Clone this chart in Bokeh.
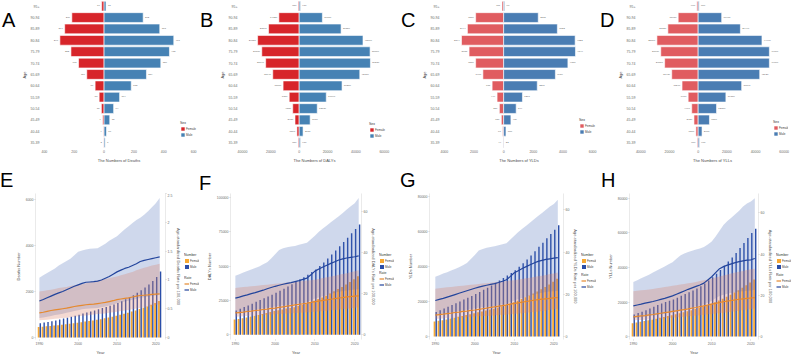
from bokeh.plotting import figure
from bokeh.layouts import row, column
from bokeh.models import (Range1d, LinearAxis, FixedTicker, Legend, LegendItem, Div,
                          ColumnDataSource, BasicTickFormatter)
from bokeh.transform import dodge
from bokeh.core.properties import value
from bokeh.embed import file_html
from bokeh.resources import INLINE

FONT = "Liberation Sans"
TICK_COL = "#6b6b6b"
TITLE_COL = "#4a4a4a"

# ---------------------------------------------------------------- age pyramids
ages = ["35-39", "40-44", "45-49", "50-54", "55-59", "60-64", "65-69",
        "70-74", "75-79", "80-84", "85-89", "90-94", "95+"]

deaths_female = [2, 4, 9, 18, 33, 60, 116, 171, 222, 296, 264, 216, 16]
deaths_male = [7, 16, 38, 64, 104, 182, 284, 380, 438, 467, 373, 262, 13]

dalys_female = [680, 1590, 2950, 4550, 7050, 11360, 18640, 23640, 26370, 29320, 21590, 14320, 680]
dalys_male = [910, 2730, 7730, 12730, 19090, 30230, 42730, 50230, 50000, 45000, 29550, 16360, 910]

ylds_female = [44, 67, 156, 289, 444, 778, 1400, 1889, 2333, 2844, 2444, 1889, 111]
ylds_male = [22, 156, 489, 844, 1267, 2267, 3489, 4333, 4844, 4822, 3622, 2333, 67]

ylls_female = [670, 1570, 2920, 4490, 6970, 11240, 18430, 23370, 26070, 28760, 21120, 13930, 900]
ylls_male = [900, 2700, 7870, 12810, 19330, 30340, 42920, 49660, 49660, 44490, 29440, 16400, 670]

ticks_deaths = [-400, -200, 0, 200, 400, 600]
ticks_dalys = [-40000, -20000, 0, 20000, 40000, 60000]
ticks_ylds = [-4000, -2000, 0, 2000, 4000, 6000]
ticks_ylls = [-40000, -20000, 0, 20000, 40000, 60000]

# ---------------------------------------------------------------- trends 1990-2021
years = list(range(1990, 2022))

# Deaths
e_num_f = [460, 475, 490, 505, 520, 540, 560, 580, 600, 620, 645, 670, 695, 720, 745, 770,
           800, 835, 870, 905, 945, 990, 1035, 1080, 1130, 1180, 1235, 1290, 1350, 1420, 1500, 1590]
e_num_m = [620, 650, 680, 710, 745, 785, 825, 865, 905, 950, 995, 1040, 1085, 1130, 1180, 1230,
           1280, 1330, 1385, 1440, 1500, 1580, 1660, 1750, 1840, 1940, 2050, 2170, 2300, 2450, 2630, 2870]
e_rate_f = [0.43, 0.44, 0.455, 0.47, 0.48, 0.49, 0.50, 0.51, 0.525, 0.54, 0.55, 0.56, 0.57, 0.575, 0.58, 0.59,
            0.60, 0.61, 0.625, 0.64, 0.66, 0.67, 0.68, 0.69, 0.705, 0.72, 0.73, 0.735, 0.74, 0.75, 0.755, 0.76]
e_rate_m = [0.635, 0.66, 0.69, 0.72, 0.75, 0.775, 0.80, 0.83, 0.86, 0.89, 0.915, 0.94, 0.96, 0.965, 0.97, 0.98,
            1.00, 1.03, 1.06, 1.10, 1.14, 1.17, 1.20, 1.22, 1.25, 1.28, 1.32, 1.34, 1.355, 1.37, 1.385, 1.40]
e_lo_f = [0.30, 0.305, 0.31, 0.32, 0.325, 0.33, 0.34, 0.345, 0.355, 0.36, 0.37, 0.38, 0.385, 0.39, 0.40, 0.41,
          0.415, 0.42, 0.43, 0.44, 0.45, 0.46, 0.47, 0.48, 0.49, 0.505, 0.515, 0.525, 0.535, 0.55, 0.565, 0.58]
e_hi_f = [0.80, 0.81, 0.82, 0.83, 0.845, 0.86, 0.87, 0.88, 0.895, 0.91, 0.92, 0.93, 0.945, 0.96, 0.975, 0.99,
          1.00, 1.02, 1.03, 1.045, 1.06, 1.08, 1.10, 1.12, 1.14, 1.17, 1.19, 1.21, 1.23, 1.25, 1.265, 1.28]
e_lo_m = [0.34, 0.35, 0.36, 0.375, 0.39, 0.40, 0.415, 0.43, 0.445, 0.46, 0.475, 0.49, 0.50, 0.505, 0.51, 0.515,
          0.525, 0.54, 0.555, 0.575, 0.595, 0.61, 0.625, 0.64, 0.655, 0.67, 0.69, 0.70, 0.71, 0.72, 0.73, 0.74]
e_hi_m = [1.04, 1.08, 1.12, 1.16, 1.20, 1.25, 1.29, 1.33, 1.37, 1.43, 1.49, 1.51, 1.53, 1.54, 1.545, 1.55,
          1.59, 1.63, 1.68, 1.72, 1.76, 1.82, 1.88, 1.93, 1.99, 2.04, 2.08, 2.13, 2.19, 2.26, 2.33, 2.42]

# DALYs
f_num_f = [11000, 11500, 12000, 12600, 13200, 13800, 14400, 15100, 15800, 16500, 17200, 17800, 18400, 19000, 19500, 20000,
           20900, 21800, 22700, 23700, 24700, 25900, 27100, 28400, 30000, 31600, 33200, 34800, 36500, 38400, 40400, 42500]
f_num_m = [17700, 18900, 20100, 21300, 22600, 23900, 25200, 26500, 27800, 29100, 30500, 32000, 33500, 35000, 36700, 38500,
           40200, 41900, 43700, 45600, 47500, 50000, 52500, 55400, 58300, 61300, 64400, 67400, 70600, 73800, 77000, 80300]
f_rate_f = [10.6, 10.8, 11.0, 11.3, 11.5, 11.8, 12.0, 12.3, 12.5, 12.8, 13.0, 13.3, 13.6, 13.9, 14.2, 14.5,
            14.8, 15.1, 15.4, 15.8, 16.1, 16.4, 16.7, 17.0, 17.3, 17.6, 17.9, 18.1, 18.4, 18.6, 18.8, 18.9]
f_rate_m = [17.8, 18.3, 18.9, 19.4, 20.0, 20.5, 21.1, 21.7, 22.4, 23.0, 23.6, 24.1, 24.6, 25.0, 25.4, 25.9,
            26.4, 27.0, 27.6, 29.2, 31.0, 32.0, 33.0, 33.9, 34.8, 35.6, 36.4, 37.0, 37.4, 37.7, 38.0, 38.4]
f_lo_f = [8.8, 8.9, 9.0, 9.1, 9.2, 9.4, 9.5, 9.6, 9.7, 9.8, 10.0, 10.1, 10.2, 10.3, 10.4, 10.6,
          10.7, 10.8, 10.9, 11.0, 11.2, 11.3, 11.5, 11.7, 11.9, 12.1, 12.3, 12.5, 12.7, 12.9, 13.1, 13.4]
f_hi_f = [22.8, 23.0, 23.2, 23.4, 23.6, 23.8, 24.0, 24.2, 24.4, 24.6, 24.8, 25.0, 25.2, 25.4, 25.6, 25.8,
          26.0, 26.2, 26.4, 26.6, 26.8, 27.2, 27.6, 28.0, 28.4, 28.8, 29.2, 29.6, 30.0, 30.4, 30.9, 31.4]
f_lo_m = [10.7, 11.0, 11.3, 11.6, 11.9, 12.2, 12.5, 12.8, 13.1, 13.4, 13.7, 14.0, 14.3, 14.5, 14.7, 15.0,
          15.3, 15.6, 15.9, 16.7, 17.6, 18.2, 18.8, 19.4, 19.9, 20.4, 20.9, 21.3, 21.6, 21.8, 22.0, 22.2]
f_hi_m = [28.8, 29.5, 30.3, 31.0, 31.8, 32.5, 33.3, 34.3, 35.3, 37.2, 39.2, 41.3, 42.1, 42.6, 43.0, 43.3,
          43.8, 44.3, 44.8, 46.5, 48.3, 50.2, 51.8, 53.3, 54.8, 56.3, 57.8, 59.4, 61.0, 62.6, 64.1, 66.6]

# YLDs
g_num_f = [8600, 9000, 9400, 9800, 10300, 10800, 11300, 11800, 12300, 12800, 13400, 13900, 14400, 14900, 15400, 15900,
           16600, 17300, 18000, 18800, 19600, 20500, 21400, 22400, 23500, 24600, 25800, 27000, 28300, 29700, 31300, 33000]
g_num_m = [14100, 15000, 16000, 17000, 18000, 19000, 20100, 21200, 22200, 23200, 24300, 25500, 26700, 27900, 29200, 30600,
           32000, 33400, 34800, 36300, 37800, 39800, 41800, 44000, 46300, 48700, 51200, 53600, 56100, 58600, 61000, 63600]
g_rate_f = [10.2, 10.4, 10.6, 10.9, 11.1, 11.4, 11.6, 11.9, 12.1, 12.4, 12.6, 12.9, 13.2, 13.5, 13.8, 14.1,
            14.4, 14.7, 15.0, 15.4, 15.7, 16.0, 16.3, 16.6, 16.9, 17.2, 17.5, 17.7, 17.9, 18.1, 18.3, 18.5]
g_rate_m = [17.1, 17.6, 18.1, 18.7, 19.3, 19.9, 20.5, 21.1, 21.7, 22.3, 22.9, 23.4, 23.9, 24.3, 24.7, 25.1,
            25.6, 26.2, 26.9, 28.5, 30.2, 31.2, 32.2, 33.1, 34.0, 34.8, 35.6, 36.1, 36.5, 36.8, 37.1, 37.4]
g_lo_f = [8.4, 8.5, 8.6, 8.7, 8.8, 8.9, 9.0, 9.1, 9.2, 9.4, 9.5, 9.6, 9.7, 9.8, 9.9, 10.1,
          10.2, 10.3, 10.4, 10.6, 10.7, 10.9, 11.1, 11.3, 11.5, 11.7, 11.9, 12.1, 12.4, 12.7, 12.9, 13.2]
g_hi_f = [22.7, 22.9, 23.1, 23.3, 23.5, 23.7, 23.9, 24.1, 24.3, 24.5, 24.7, 24.9, 25.1, 25.3, 25.5, 25.7,
          25.9, 26.1, 26.3, 26.5, 26.7, 27.0, 27.3, 27.6, 27.9, 28.2, 28.5, 28.8, 29.2, 29.6, 29.9, 30.3]
g_lo_m = [10.3, 10.6, 10.9, 11.2, 11.5, 11.8, 12.1, 12.4, 12.7, 13.0, 13.3, 13.6, 13.9, 14.1, 14.3, 14.6,
          14.9, 15.2, 15.5, 16.3, 17.1, 17.7, 18.3, 18.9, 19.4, 19.9, 20.4, 20.8, 21.1, 21.3, 21.5, 21.7]
g_hi_m = [28.3, 29.0, 29.8, 30.5, 31.3, 32.0, 32.8, 33.8, 34.8, 36.7, 38.6, 40.7, 41.5, 42.0, 42.4, 42.7,
          43.2, 43.7, 44.2, 45.9, 47.7, 49.5, 51.0, 52.5, 54.0, 55.5, 57.0, 58.5, 60.0, 61.5, 62.7, 64.7]

# YLLs
h_num_f = [7800, 8200, 8600, 9000, 9400, 9900, 10400, 10900, 11400, 11900, 12400, 12900, 13500, 14100, 14700, 15300,
           16000, 16700, 17400, 18200, 19000, 19900, 20900, 21900, 23000, 24200, 25500, 26800, 28200, 29700, 31300, 33000]
h_num_m = [12800, 13600, 14400, 15300, 16300, 17300, 18300, 19200, 20000, 20700, 21500, 22500, 23600, 24700, 25700, 26700,
           27900, 29200, 30700, 32400, 34300, 36300, 38600, 41000, 43400, 45800, 48400, 51200, 54200, 57100, 59900, 62400]
h_rate_f = [9.6, 9.8, 10.0, 10.2, 10.5, 10.7, 11.0, 11.3, 11.6, 11.9, 12.2, 12.5, 12.8, 13.1, 13.4, 13.8,
            14.1, 14.5, 14.9, 15.3, 15.7, 16.1, 16.5, 16.9, 17.2, 17.5, 17.8, 18.1, 18.3, 18.5, 18.7, 18.9]
h_rate_m = [14.9, 15.3, 15.7, 16.2, 16.6, 17.0, 17.5, 18.0, 18.5, 19.1, 19.7, 20.5, 21.3, 22.1, 22.9, 23.6,
            24.3, 25.0, 25.9, 27.4, 29.0, 31.0, 32.9, 33.9, 34.6, 35.2, 35.8, 36.3, 36.7, 37.0, 37.2, 37.8]
h_lo_f = [7.9, 8.0, 8.1, 8.2, 8.3, 8.5, 8.6, 8.7, 8.9, 9.0, 9.2, 9.3, 9.5, 9.6, 9.8, 10.0,
          10.2, 10.4, 10.6, 10.8, 11.0, 11.2, 11.4, 11.6, 11.8, 12.0, 12.3, 12.6, 12.9, 13.1, 13.4, 13.6]
h_hi_f = [22.0, 22.2, 22.4, 22.6, 22.8, 23.1, 23.4, 23.7, 24.0, 24.3, 24.6, 24.9, 25.2, 25.5, 25.8, 26.1,
          26.5, 26.9, 27.3, 27.7, 28.1, 28.6, 29.1, 29.6, 30.1, 30.6, 31.0, 31.4, 31.8, 32.2, 32.6, 32.9]
h_lo_m = [8.9, 9.1, 9.4, 9.7, 10.0, 10.2, 10.5, 10.8, 11.1, 11.5, 11.8, 12.3, 12.8, 13.3, 13.7, 14.2,
          14.6, 15.0, 15.5, 16.4, 17.4, 18.6, 19.7, 20.3, 20.8, 21.1, 21.5, 21.8, 22.0, 22.2, 22.3, 22.7]
h_hi_m = [26.4, 27.3, 28.2, 29.1, 30.0, 31.0, 32.0, 33.0, 34.0, 35.0, 36.0, 37.7, 39.3, 40.3, 41.0, 41.6,
          42.2, 42.7, 43.4, 44.6, 46.0, 48.5, 51.3, 54.0, 56.0, 57.6, 59.2, 61.0, 63.0, 64.4, 65.4, 67.0]

year_ticks = [1990, 2000, 2010, 2020]

# ---------------------------------------------------------------- colours
RED_A = "#d7252a"
BLUE_A = "#4682b4"
RED_C = "#e05c60"
BLUE_C = "#4a7db3"
ORANGE_BAR = "#f7a933"
NAVY_BAR = "#2b4ea8"
ORANGE_LINE = "#e5892f"
NAVY_LINE = "#22449c"
RIBBON_M = "#3f62b5"
RIBBON_F = "#d9826a"


def style_axis(ax, tick_size="3.5px", label_size="4px"):
    ax.major_label_text_font = FONT
    ax.major_label_text_font_size = tick_size
    ax.major_label_text_color = TICK_COL
    ax.axis_label_text_font = FONT
    ax.axis_label_text_font_size = label_size
    ax.axis_label_text_font_style = "normal"
    ax.axis_label_text_color = TITLE_COL
    ax.major_tick_in = 0
    ax.major_tick_out = 1
    ax.minor_tick_in = 0
    ax.minor_tick_out = 0
    ax.major_tick_line_color = "#d0d0d0"
    ax.major_label_standoff = 1
    ax.axis_label_standoff = 2
    ax.axis_line_color = None


def style_legend(leg):
    leg.label_text_font = FONT
    leg.label_text_font_size = "3px"
    leg.label_text_color = "#444444"
    leg.title_text_font = FONT
    leg.title_text_font_size = "3.5px"
    leg.title_text_font_style = "normal"
    leg.title_text_color = "#333333"
    leg.glyph_width = 5
    leg.glyph_height = 5
    leg.label_height = 5
    leg.label_width = 0
    leg.label_standoff = 1
    leg.spacing = 1
    leg.padding = 1
    leg.margin = 0
    leg.title_standoff = 1
    leg.border_line_color = None
    leg.background_fill_alpha = 0


def tag(text, width, height, dx, dy):
    """Panel letter as a block of text of its own."""
    return Div(text=text, width=width, height=height, margin=0,
               styles={"font-family": FONT, "font-size": "20px", "line-height": "20px",
                       "color": "black", "box-sizing": "border-box",
                       "padding-left": f"{dx}px", "padding-top": f"{dy}px",
                       "overflow": "visible", "white-space": "nowrap"})


def pyramid(fem, mal, ticks, x0, x1, width, bl, br, fcol, mcol, xtitle, leg_xy):
    height, bt, bb = 165, 0, 12
    y0, y1 = 0.4, 13.5
    p = figure(width=width, height=height, x_range=Range1d(x0, x1), y_range=Range1d(y0, y1),
               output_backend="svg", toolbar_location=None,
               min_border_left=bl, min_border_right=br, min_border_top=bt, min_border_bottom=bb)
    p.outline_line_color = None
    p.xgrid.visible = False
    p.ygrid.visible = False
    pos = list(range(1, len(ages) + 1))
    pad = (x1 - x0) * 0.012
    src = ColumnDataSource(dict(
        y=pos, fl=[-v for v in fem], mr=mal,
        ftx=[-v - pad for v in fem], mtx=[v + pad for v in mal],
        ft=[str(v) for v in fem], mt=[str(v) for v in mal]))
    rf = p.hbar(y="y", left="fl", right=0, height=0.86, source=src,
                fill_color=fcol, line_color="white", line_width=0.6)
    rm = p.hbar(y="y", left=0, right="mr", height=0.86, source=src,
                fill_color=mcol, line_color="white", line_width=0.6)
    p.text(x="ftx", y="y", text="ft", source=src, text_font=value(FONT),
           text_font_size="2.5px", text_align="right", text_baseline="middle",
           text_color="#666666")
    p.text(x="mtx", y="y", text="mt", source=src, text_font=value(FONT),
           text_font_size="2.5px", text_align="left", text_baseline="middle",
           text_color="#666666")

    p.xaxis.ticker = FixedTicker(ticks=ticks)
    p.xaxis.major_label_overrides = {t: str(abs(t)) for t in ticks}
    p.xaxis.axis_label = xtitle
    p.yaxis.ticker = FixedTicker(ticks=pos)
    p.yaxis.major_label_overrides = {i: a for i, a in zip(pos, ages)}
    p.yaxis.axis_label = "Age"
    for ax in p.xaxis:
        style_axis(ax)
        ax.major_tick_out = 0
        ax.major_label_standoff = 0
    for ax in p.yaxis:
        style_axis(ax)
        ax.major_tick_out = 0
        ax.axis_label_standoff = 1

    leg = Legend(items=[LegendItem(label="Female", renderers=[rf]),
                        LegendItem(label="Male", renderers=[rm])],
                 title="Sex", location=leg_xy)
    style_legend(leg)
    p.add_layout(leg)
    return p


def trend(fnum, mnum, frate, mrate, flo, fhi, mlo, mhi,
          lticks, ly, rticks, ry, xr, width, bl, br, ltitle, rtitle):
    p = figure(width=width, height=164, x_range=Range1d(*xr), y_range=Range1d(*ly),
               output_backend="svg", toolbar_location=None,
               min_border_left=bl, min_border_right=br, min_border_top=0, min_border_bottom=12)
    p.outline_line_color = None
    p.xgrid.visible = False
    p.ygrid.visible = False
    p.extra_y_ranges = {"rate": Range1d(*ry)}

    src = ColumnDataSource(dict(year=years, fnum=fnum, mnum=mnum, frate=frate, mrate=mrate,
                                flo=flo, fhi=fhi, mlo=mlo, mhi=mhi))
    p.vbar(x=dodge("year", -0.19, range=p.x_range), top="fnum", width=0.46,
           source=src, fill_color=ORANGE_BAR, line_color=None)
    p.vbar(x=dodge("year", 0.23, range=p.x_range), top="mnum", width=0.36,
           source=src, fill_color=NAVY_BAR, line_color=None)
    p.varea(x="year", y1="mlo", y2="mhi", source=src, y_range_name="rate",
            fill_color=RIBBON_M, fill_alpha=0.25)
    p.varea(x="year", y1="flo", y2="fhi", source=src, y_range_name="rate",
            fill_color=RIBBON_F, fill_alpha=0.3)
    p.line(x="year", y="frate", source=src, y_range_name="rate",
           line_color=ORANGE_LINE, line_width=1.2)
    p.line(x="year", y="mrate", source=src, y_range_name="rate",
           line_color=NAVY_LINE, line_width=1.2)

    p.xaxis.ticker = FixedTicker(ticks=year_ticks)
    p.xaxis.axis_label = "Year"
    left_ax = p.yaxis[0]
    left_ax.ticker = FixedTicker(ticks=lticks)
    left_ax.formatter = BasicTickFormatter(use_scientific=False)
    left_ax.axis_label = ltitle
    rax = LinearAxis(y_range_name="rate", ticker=FixedTicker(ticks=rticks),
                     axis_label=rtitle, formatter=BasicTickFormatter(use_scientific=False))
    p.add_layout(rax, "right")
    style_axis(p.xaxis[0])
    for ax in (left_ax, rax):
        style_axis(ax)
        ax.axis_line_color = "#dcdcdc"
        ax.axis_line_width = 0.6
    rax.axis_label_standoff = 1
    rax.axis_label_text_color = "#5a5a5a"
    return p, src


def trend_key(src, width, number_y, rate_y):
    """Keys for the bar counts and the rate lines, set beside a trend panel.

    The key glyphs share the panel's data; the key's own ranges keep those
    marks out of sight so only the legend entries show."""
    k = figure(width=width, height=192, x_range=Range1d(0, width), y_range=Range1d(0, 192),
               output_backend="svg", toolbar_location=None, x_axis_type=None, y_axis_type=None,
               min_border_left=0, min_border_right=0, min_border_top=0, min_border_bottom=0)
    k.outline_line_color = None
    k.xgrid.visible = False
    k.ygrid.visible = False
    bf = k.vbar(x="year", top="fnum", width=1, source=src, fill_color=ORANGE_BAR, line_color=None)
    bm = k.vbar(x="year", top="mnum", width=1, source=src, fill_color=NAVY_BAR, line_color=None)
    lf = k.line(x="year", y="frate", source=src, line_color=ORANGE_LINE, line_width=1.2)
    lm = k.line(x="year", y="mrate", source=src, line_color=NAVY_LINE, line_width=1.2)
    number = Legend(items=[LegendItem(label="Female", renderers=[bf]),
                           LegendItem(label="Male", renderers=[bm])],
                    title="Number", location=(0, number_y))
    rate = Legend(items=[LegendItem(label="Female", renderers=[lf]),
                         LegendItem(label="Male", renderers=[lm])],
                  title="Rate", location=(0, rate_y))
    for leg in (number, rate):
        style_legend(leg)
        k.add_layout(leg)
    return k


# top row: panel letter + age pyramid
pA = pyramid(deaths_female, deaths_male, ticks_deaths, -426, 626, 182, 20, 3,
             RED_A, BLUE_A, "The Numbers of Deaths", (140, 12))
pB = pyramid(dalys_female, dalys_male, ticks_dalys, -42800, 64400, 184, 16, 10,
             RED_A, BLUE_A, "The Numbers of DALYs", (131, 11))
pC = pyramid(ylds_female, ylds_male, ticks_ylds, -4260, 6330, 182, 20, 3,
             RED_C, BLUE_C, "The Numbers of YLDs", (139, 15))
pD = pyramid(ylls_female, ylls_male, ticks_ylls, -43000, 63000, 177, 16, 3,
             RED_C, BLUE_C, "The Numbers of YLLs", (137, 13))
top = row(tag("A", 18, 165, 2, 10), pA,
          tag("B", 16, 165, 0, 10), pB,
          tag("C", 18, 165, 1, 10), pC,
          tag("D", 14, 165, 0, 10), pD)

# bottom row: letter above each trend panel, keys alongside
pE, sE = trend(e_num_f, e_num_m, e_rate_f, e_rate_m, e_lo_f, e_hi_f, e_lo_m, e_hi_m,
               [0, 2000, 4000, 6000], (-83, 6250), [0, 0.5, 1.0, 1.5, 2.0, 2.5], (-0.033, 2.5),
               (1989.0, 2022.5), 184, 35, 14,
               "Deaths Number", "Age-standardized Deaths Rate per 100,000")
pF, sF = trend(f_num_f, f_num_m, f_rate_f, f_rate_m, f_lo_f, f_hi_f, f_lo_m, f_hi_m,
               [0, 25000, 50000, 75000, 100000], (-3497, 102800), [0, 20, 40, 60], (-2.34, 68.85),
               (1988.78, 2021.71), 180, 31, 14,
               "DALYs Number", "Age-standardized DALYs Rate per 100,000")
pG, sG = trend(g_num_f, g_num_m, g_rate_f, g_rate_m, g_lo_f, g_hi_f, g_lo_m, g_hi_m,
               [0, 20000, 40000, 60000, 80000], (-1644, 81644), [0, 20, 40, 60], (-1.36, 67.7),
               (1988.53, 2022.44), 187, 35, 14,
               "YLDs Number", "Age-standardized YLDs Rate per 100,000")
pH, sH = trend(h_num_f, h_num_m, h_rate_f, h_rate_m, h_lo_f, h_hi_f, h_lo_m, h_hi_m,
               [0, 20000, 40000, 60000, 80000], (-1667, 82778), [0, 20, 40, 60], (-1.4, 69.3),
               (1989.02, 2021.94), 180, 33, 13,
               "YLLs Number", "Age-standardized YLLs Rate per 100,000")
bottom = row(column(tag("E", 184, 28, 0, 5), pE), trend_key(sE, 15, 88, 65),
             column(tag("F", 180, 28, 0, 8), pF), trend_key(sF, 15, 88, 70),
             column(tag("G", 187, 28, 6, 5), pG), trend_key(sG, 15, 88, 68),
             column(tag("H", 180, 28, 5, 5), pH), trend_key(sH, 15, 88, 68))

layout = column(top, bottom)

with open("out.html", "w") as fh:
    fh.write(file_html(layout, INLINE))
